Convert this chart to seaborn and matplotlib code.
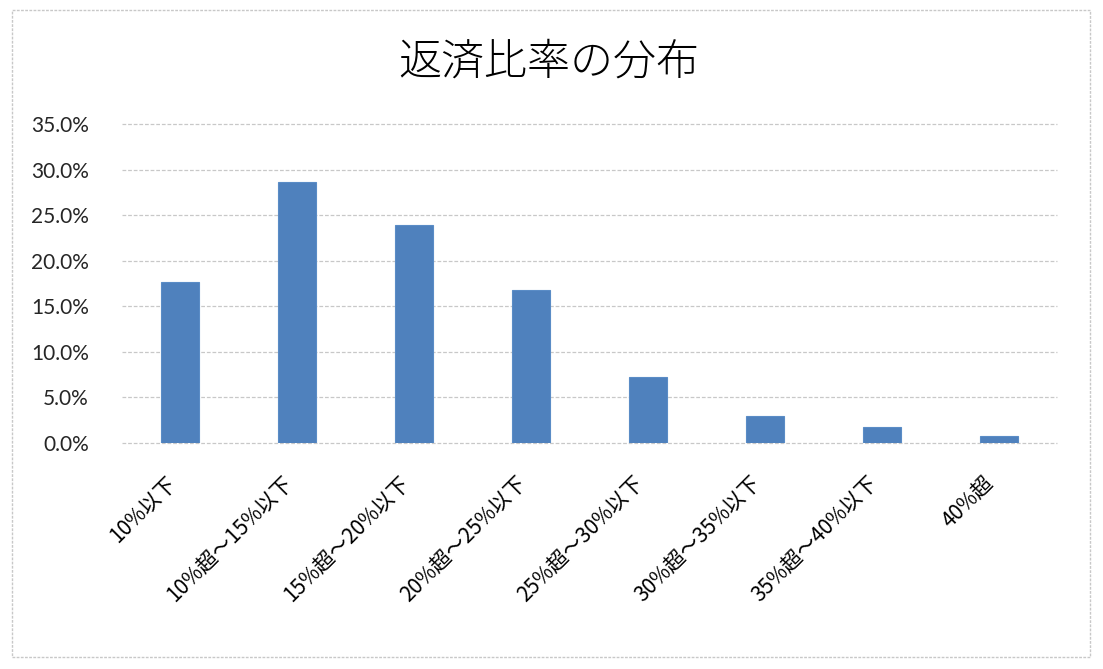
import matplotlib
matplotlib.use("Agg")
import matplotlib.pyplot as plt
import matplotlib.ticker as mticker
from matplotlib.patches import Rectangle
import seaborn as sns
import pandas as pd

categories = ["10%以下", "10%超～15%以下", "15%超～20%以下", "20%超～25%以下",
              "25%超～30%以下", "30%超～35%以下", "35%超～40%以下", "40%超"]
shares = [0.177, 0.286, 0.239, 0.168, 0.072, 0.030, 0.018, 0.008]
title = "返済比率の分布"

df = pd.DataFrame({"category": categories, "share": shares})

sns.set_theme(style="white")
plt.rcParams['font.family'] = ['Noto Sans CJK JP', 'DejaVu Sans']

W, H = 1103, 669
fig = plt.figure(figsize=(W / 100, H / 100), dpi=100)
ax = fig.add_axes([122 / W, 1 - 443 / H, (1057 - 122) / W, (443 - 124) / H])

sns.barplot(data=df, x="category", y="share", color="#4F81BD", saturation=1,
            width=0.325, ax=ax, zorder=3, edgecolor="#5a8cc6", linewidth=0.8)

ax.set_ylim(0, 0.35)
ax.yaxis.set_major_locator(mticker.MultipleLocator(0.05))
ax.yaxis.set_major_formatter(mticker.FuncFormatter(lambda v, p: f"{v*100:.1f}%"))
ax.set_xlabel("")
ax.set_ylabel("")
for s in ax.spines.values():
    s.set_visible(False)
ax.grid(axis="y", color="#c8c8c8", linestyle=(0, (3, 1.5)), linewidth=0.9, zorder=0)
ax.grid(axis="x", visible=False)
for gl in ax.get_ygridlines():
    gl.set_clip_on(False)
ax.tick_params(axis="both", length=0)
ax.tick_params(axis="y", pad=24)
ax.tick_params(axis="x", pad=21)
for lbl in ax.get_yticklabels():
    lbl.set_family(["Lato", "DejaVu Sans"])
    lbl.set_fontsize(15)
    lbl.set_color("#262626")
ax.set_xticks(range(len(categories)))
ax.set_xticklabels(categories, rotation=45, ha="right", fontsize=15, color="#000000",
                   family=["Noto Sans CJK JP", "DejaVu Sans"])

fig.text(549 / W, 1 - 62 / H, title, ha="center", va="center", fontsize=31,
         fontweight="light", color="#000000", family=["Noto Sans CJK JP", "DejaVu Sans"])

fig.patches.append(Rectangle((12 / W, 1 - 657 / H), (1090 - 12) / W, (657 - 10) / H,
                             transform=fig.transFigure, fill=False,
                             edgecolor="#c8c8c8", linewidth=1.0, linestyle=(0, (2, 1))))

fig.savefig("out.png", dpi=100, facecolor="white")
